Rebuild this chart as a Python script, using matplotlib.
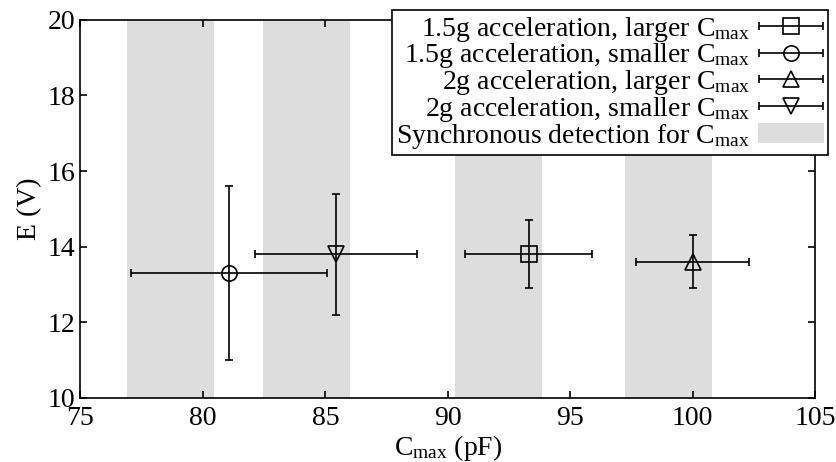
import numpy as np
import matplotlib as mpl
mpl.use('Agg')
import matplotlib.pyplot as plt
from matplotlib.patches import Patch
from matplotlib.legend_handler import HandlerErrorbar

# Configure plot settings
mpl.rcParams['font.family'] = 'Liberation Serif'
mpl.rcParams['mathtext.fontset'] = 'custom'
mpl.rcParams['mathtext.rm'] = 'Liberation Serif'
mpl.rcParams['mathtext.it'] = 'Liberation Serif'
mpl.rcParams['font.size'] = 20

# Data
labels = ['1.5g acceleration, larger $\\mathrm{C_{max}}$',
          '1.5g acceleration, smaller $\\mathrm{C_{max}}$',
          '2g acceleration, larger $\\mathrm{C_{max}}$',
          '2g acceleration, smaller $\\mathrm{C_{max}}$']
markers = ['s', 'o', '^', 'v']
c_max = [93.3, 81.05, 100.0, 85.45]
c_err = [2.6, 4.0, 2.3, 3.3]
e_volt = [13.8, 13.3, 13.6, 13.8]
e_err = [0.9, 2.3, 0.7, 1.6]
band_start = [76.9, 82.45, 90.3, 97.25]
band_end = [80.45, 86.0, 93.85, 100.8]

fig, ax = plt.subplots(figsize=(8.37, 4.62), dpi=100)
fig.subplots_adjust(left=0.096, right=0.974, top=0.957, bottom=0.139)

for x0, x1 in zip(band_start, band_end):
    ax.axvspan(x0, x1, color='#dddddd', lw=0, zorder=0)

style = dict(mfc='none', mec='black', ms=11, mew=1.2, ecolor='black',
             elinewidth=1.2, capsize=3, capthick=1.2, color='black')
handles = []
for i in range(len(labels)):
    ax.errorbar(c_max[i], e_volt[i], xerr=c_err[i], yerr=e_err[i],
                fmt=markers[i], zorder=3, **style)
    # legend proxy: horizontal error bar only
    h = ax.errorbar([np.nan], [np.nan], xerr=[1], fmt=markers[i], label=labels[i], **style)
    handles.append(h)
handles.append(Patch(facecolor='#dddddd', edgecolor='none',
                     label='Synchronous detection for $\\mathrm{C_{max}}$'))

ax.set_xlim(75, 105)
ax.set_ylim(10, 20)
ax.set_xticks(np.arange(75, 106, 5))
ax.set_yticks(np.arange(10, 21, 2))
ax.tick_params(direction='in', top=True, right=True, length=5, width=1.2)
ax.tick_params(axis='x', pad=6)
for s in ax.spines.values():
    s.set_linewidth(1.2)

ax.set_xlabel('$\\mathrm{C_{max}}$ (pF)', labelpad=1)
ax.set_ylabel('E (V)', labelpad=4)

leg = ax.legend(handles=handles, loc='upper right', bbox_to_anchor=(1.017, 1.025),
                markerfirst=False, fancybox=False, framealpha=1, edgecolor='black',
                borderpad=0.15, labelspacing=-0.08, handlelength=2.35, handletextpad=0.3,
                borderaxespad=0, handler_map={type(handles[0]): HandlerErrorbar(xerr_size=1.15)})
leg.get_frame().set_linewidth(1.2)

fig.savefig('out.png', dpi=100)
